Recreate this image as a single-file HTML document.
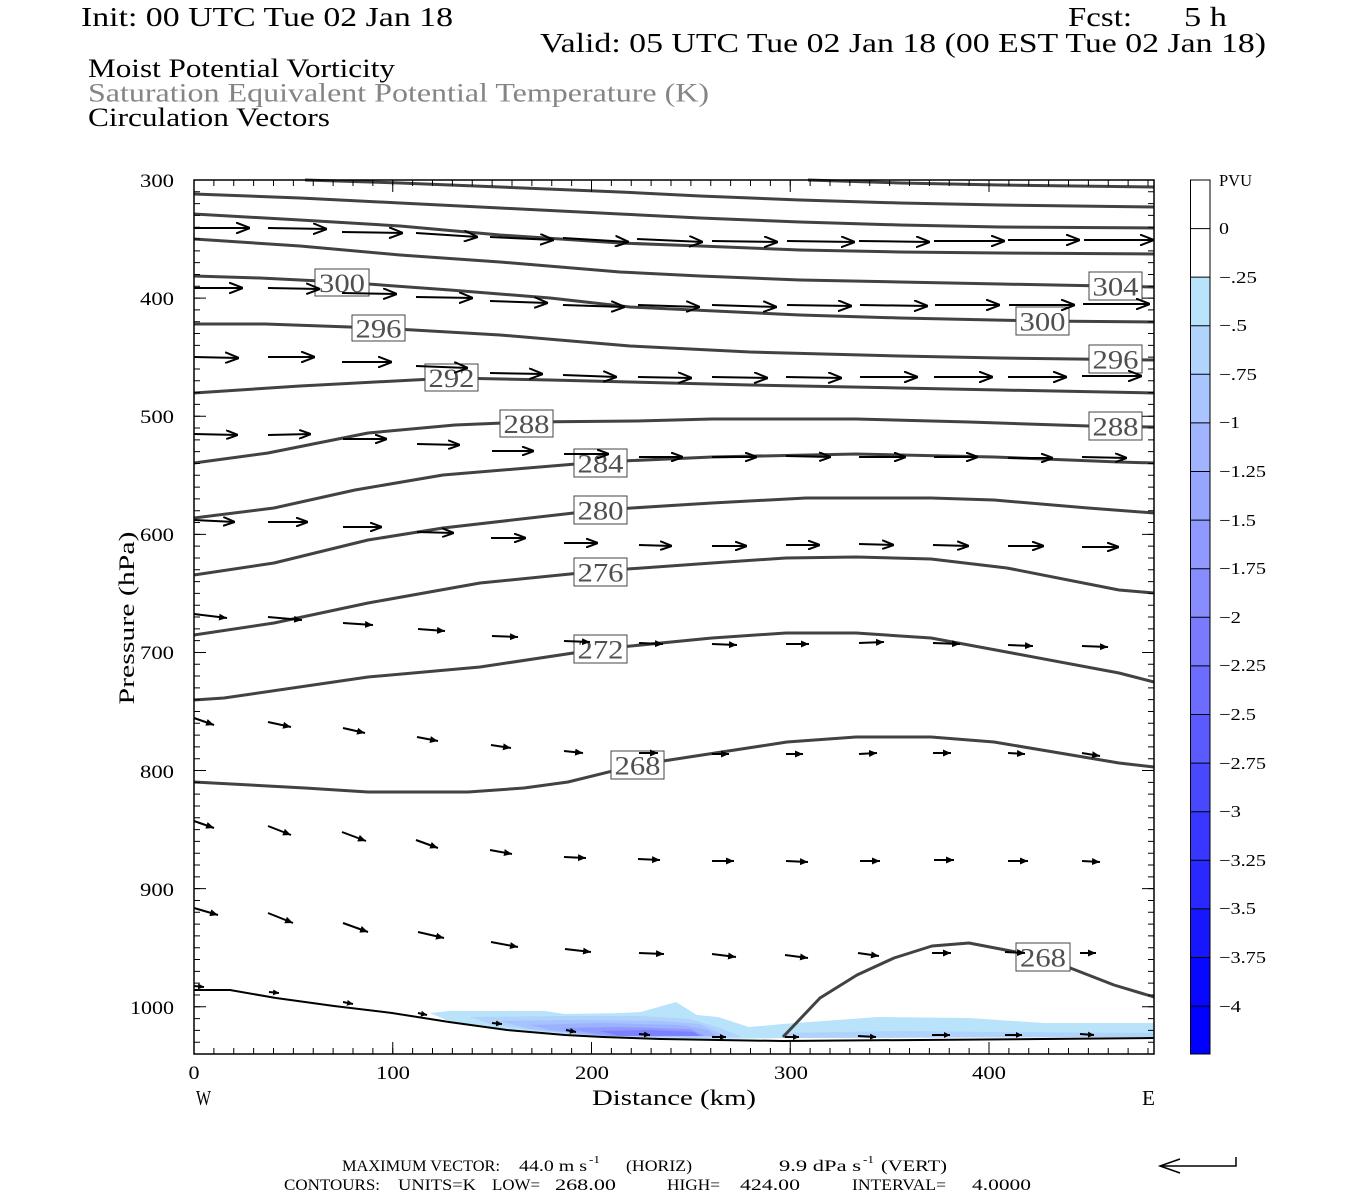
<!DOCTYPE html>
<html><head><meta charset="utf-8"><style>
html,body{margin:0;padding:0;background:#fff;}
svg{display:block;}
text{font-family:"Liberation Serif",serif;}
</style></head><body>
<svg width="1350" height="1200" viewBox="0 0 1350 1200" xmlns="http://www.w3.org/2000/svg">
<defs>
<marker id="mL" viewBox="0 0 14 12" refX="14" refY="6" markerWidth="14" markerHeight="12" markerUnits="userSpaceOnUse" orient="auto"><path d="M0,0.5 L14,6 L0,11.5" fill="none" stroke="#000" stroke-width="2"/></marker>
<marker id="mM" viewBox="0 0 12 10" refX="12" refY="5" markerWidth="12" markerHeight="10" markerUnits="userSpaceOnUse" orient="auto"><path d="M0,0.5 L12,5 L0,9.5" fill="none" stroke="#000" stroke-width="2"/></marker>
<marker id="mS" viewBox="0 0 8 7" refX="8" refY="3.5" markerWidth="8" markerHeight="7" markerUnits="userSpaceOnUse" orient="auto"><path d="M0,0 L8,3.5 L0,7 Z" fill="#000"/></marker>
<marker id="mT" viewBox="0 0 6 6" refX="6" refY="3" markerWidth="6" markerHeight="6" markerUnits="userSpaceOnUse" orient="auto"><path d="M0,0 L6,3 L0,6 Z" fill="#000"/></marker>
</defs>
<rect width="1350" height="1200" fill="#fff"/>

<!-- Titles -->
<text x="81" y="26" font-size="27" textLength="372" lengthAdjust="spacingAndGlyphs">Init: 00 UTC Tue 02 Jan 18</text>
<text x="1068" y="26" font-size="27" textLength="64" lengthAdjust="spacingAndGlyphs">Fcst:</text>
<text x="1184" y="26" font-size="27" textLength="43" lengthAdjust="spacingAndGlyphs">5 h</text>
<text x="540" y="52" font-size="27" textLength="726" lengthAdjust="spacingAndGlyphs">Valid: 05 UTC Tue 02 Jan 18 (00 EST Tue 02 Jan 18)</text>
<text x="88" y="77" font-size="26" textLength="307" lengthAdjust="spacingAndGlyphs">Moist Potential Vorticity</text>
<text x="88" y="101.5" font-size="26" fill="#858585" textLength="621" lengthAdjust="spacingAndGlyphs">Saturation Equivalent Potential Temperature (K)</text>
<text x="88" y="126" font-size="26" textLength="242" lengthAdjust="spacingAndGlyphs">Circulation Vectors</text>

<!-- PV shading -->
<path d="M430,1013 L449,1011 L545,1011 L565,1014 L622,1013 L641,1012 L676,1002 L697,1015 L718,1017 L749,1027 L783,1024 L878,1017 L969,1018 L1044,1023 L1154,1023 L1154,1037 L783,1038 L718,1039 L661,1038 L603,1036 L565,1034 L507,1029 L449,1021 Z" fill="#b9e3fb"/>
<path d="M470,1017 L560,1016 L640,1016 L690,1019 L720,1028 L742,1037 L700,1038 L603,1036 L540,1031 L490,1024 Z" fill="#afd3fb"/>
<path d="M500,1021 L580,1020 L660,1021 L700,1024 L726,1036 L650,1037 L590,1035 L530,1029 Z" fill="#a6c2ff"/>
<path d="M530,1025 L600,1023 L680,1025 L708,1030 L716,1036 L600,1036 L550,1030 Z" fill="#9cb2ff"/>
<path d="M560,1028 L620,1027 L690,1029 L705,1036 L610,1036 Z" fill="#8e9aff"/>
<path d="M600,1031 L650,1030 L694,1032 L700,1036 L620,1036 Z" fill="#7f80ff"/>
<path d="M783,1033 L900,1031 L1000,1032 L1154,1033 L1154,1037 L783,1038 Z" fill="#afd3fb"/>

<!-- ground line -->
<path d="M194,990 L230,990 L276,998 L334,1006 L392,1013 L449,1022 L507,1030 L565,1035 L603,1037 L661,1039 L718,1040 L783,1041 L1044,1039 L1154,1038" fill="none" stroke="#000" stroke-width="2"/>

<!-- contours -->
<g fill="none" stroke="#424242" stroke-width="3" stroke-linejoin="round">
<path d="M808,180 L900,183 L1000,185 L1154,187"/>
<path d="M305,180 L400,183 L500,187 L620,192 L700,196 L800,200 L900,203 L1000,205 L1154,207"/>
<path d="M194,194 L300,198 L400,203 L500,208 L620,214 L700,218 L800,222 L900,225 L1000,227 L1154,228"/>
<path d="M194,214 L300,220 L400,226 L500,235 L620,243 L700,246 L800,250 L900,252 L1000,253 L1154,254"/>
<path d="M194,239 L300,246 L400,255 L500,262 L620,272 L700,276 L800,280 L900,282 L1000,284 L1154,287"/>
<path d="M194,276 L260,278 L340,282 L450,290 L550,298 L630,307 L800,315 L900,318 L1040,321 L1154,322"/>
<path d="M194,324 L265,324 L378,328 L500,335 L630,346 L750,352 L900,356 L1000,358 L1154,360"/>
<path d="M194,393 L300,386 L452,378 L550,380 L630,382 L750,385 L900,388 L1000,390 L1154,393"/>
<path d="M194,463 L268,453 L368,433 L455,425 L526,422 L637,421 L712,419 L856,419 L969,422 L1089,426 L1154,427"/>
<path d="M194,518 L274,508 L355,490 L443,475 L600,462 L712,457 L856,454 L994,457 L1119,462 L1154,463"/>
<path d="M194,575 L274,563 L368,540 L443,528 L600,510 L712,503 L806,498 L931,498 L994,500 L1088,508 L1154,513"/>
<path d="M194,635 L274,623 L368,603 L480,583 L600,571 L712,563 L786,558 L856,557 L931,559 L1007,568 L1119,590 L1154,593"/>
<path d="M194,700 L224,698 L368,677 L480,667 L600,649 L712,638 L786,633 L856,633 L931,638 L1012,653 L1119,673 L1154,682"/>
<path d="M194,782 L305,788 L368,792 L468,792 L524,788 L568,782 L637,765 L787,742 L856,737 L931,737 L994,742 L1119,763 L1154,767"/>
<path d="M783,1037 L820,998 L857,975 L894,958 L932,946 L969,943 L1042,957 L1114,985 L1154,997"/>
</g>

<!-- contour labels -->
<g fill="#fff" stroke="#444" stroke-width="1">
<rect x="315" y="269" width="54" height="27"/>
<rect x="352" y="315" width="53" height="26"/>
<rect x="425" y="364" width="53" height="27"/>
<rect x="500" y="410" width="53" height="27"/>
<rect x="574" y="449" width="53" height="28"/>
<rect x="574" y="496" width="53" height="28"/>
<rect x="574" y="558" width="53" height="28"/>
<rect x="574" y="635" width="53" height="28"/>
<rect x="611" y="751" width="53" height="28"/>
<rect x="1089" y="272" width="53" height="28"/>
<rect x="1016" y="307" width="53" height="28"/>
<rect x="1089" y="345" width="53" height="28"/>
<rect x="1089" y="412" width="53" height="28"/>
<rect x="1016" y="943" width="54" height="28"/>
</g>
<g font-size="26" fill="#505050" text-anchor="middle">
<text x="342" y="292" textLength="46" lengthAdjust="spacingAndGlyphs">300</text>
<text x="378.5" y="337.5" textLength="46" lengthAdjust="spacingAndGlyphs">296</text>
<text x="451.5" y="387" textLength="46" lengthAdjust="spacingAndGlyphs">292</text>
<text x="526.5" y="433" textLength="46" lengthAdjust="spacingAndGlyphs">288</text>
<text x="600.5" y="472.5" textLength="46" lengthAdjust="spacingAndGlyphs">284</text>
<text x="600.5" y="519.5" textLength="46" lengthAdjust="spacingAndGlyphs">280</text>
<text x="600.5" y="581.5" textLength="46" lengthAdjust="spacingAndGlyphs">276</text>
<text x="600.5" y="658.5" textLength="46" lengthAdjust="spacingAndGlyphs">272</text>
<text x="637.5" y="774.5" textLength="46" lengthAdjust="spacingAndGlyphs">268</text>
<text x="1115.5" y="295.5" textLength="46" lengthAdjust="spacingAndGlyphs">304</text>
<text x="1042.5" y="330.5" textLength="46" lengthAdjust="spacingAndGlyphs">300</text>
<text x="1115.5" y="368.5" textLength="46" lengthAdjust="spacingAndGlyphs">296</text>
<text x="1115.5" y="435.5" textLength="46" lengthAdjust="spacingAndGlyphs">288</text>
<text x="1043" y="966.5" textLength="46" lengthAdjust="spacingAndGlyphs">268</text>
</g>

<!-- vectors -->
<g stroke="#000" stroke-width="2" fill="none">
<g marker-end="url(#mL)">
<line x1="194" y1="228" x2="250" y2="228"/>
<line x1="268" y1="228" x2="327" y2="229"/>
<line x1="342" y1="232" x2="403" y2="233"/>
<line x1="416" y1="233" x2="478" y2="237"/>
<line x1="490" y1="237" x2="554" y2="240"/>
<line x1="563" y1="238" x2="629" y2="242"/>
<line x1="637" y1="239" x2="703" y2="242"/>
<line x1="712" y1="241" x2="778" y2="242"/>
<line x1="787" y1="241" x2="855" y2="242"/>
<line x1="859" y1="241" x2="930" y2="242"/>
<line x1="934" y1="241" x2="1005" y2="241"/>
<line x1="1008" y1="240" x2="1080" y2="240"/>
<line x1="1084" y1="240" x2="1154" y2="240"/>
<line x1="194" y1="288" x2="243" y2="288"/>
<line x1="268" y1="288" x2="320" y2="289"/>
<line x1="342" y1="293" x2="397" y2="294"/>
<line x1="416" y1="297" x2="473" y2="298"/>
<line x1="490" y1="301" x2="548" y2="303"/>
<line x1="563" y1="305" x2="625" y2="307"/>
<line x1="638" y1="305" x2="700" y2="307"/>
<line x1="712" y1="305" x2="777" y2="307"/>
<line x1="787" y1="305" x2="852" y2="306"/>
<line x1="860" y1="305" x2="928" y2="306"/>
<line x1="935" y1="305" x2="1000" y2="305"/>
<line x1="1009" y1="305" x2="1075" y2="305"/>
<line x1="1083" y1="304" x2="1150" y2="304"/>
<line x1="194" y1="357" x2="239" y2="358"/>
<line x1="268" y1="357" x2="315" y2="357"/>
<line x1="342" y1="362" x2="392" y2="362"/>
<line x1="416" y1="366" x2="468" y2="368"/>
<line x1="490" y1="373" x2="543" y2="374"/>
<line x1="563" y1="375" x2="617" y2="377"/>
<line x1="638" y1="377" x2="692" y2="378"/>
<line x1="712" y1="377" x2="768" y2="378"/>
<line x1="786" y1="377" x2="842" y2="378"/>
<line x1="860" y1="377" x2="918" y2="377"/>
<line x1="934" y1="377" x2="993" y2="377"/>
<line x1="1008" y1="377" x2="1067" y2="377"/>
<line x1="1082" y1="376" x2="1142" y2="376"/>
</g>
<g marker-end="url(#mM)">
<line x1="194" y1="434" x2="238" y2="435"/>
<line x1="268" y1="435" x2="311" y2="434"/>
<line x1="343" y1="439" x2="387" y2="439"/>
<line x1="417" y1="444" x2="460" y2="445"/>
<line x1="492" y1="451" x2="534" y2="451"/>
<line x1="564" y1="454" x2="609" y2="454"/>
<line x1="639" y1="457" x2="683" y2="457"/>
<line x1="712" y1="457" x2="757" y2="457"/>
<line x1="786" y1="456" x2="831" y2="457"/>
<line x1="859" y1="457" x2="906" y2="457"/>
<line x1="934" y1="457" x2="978" y2="457"/>
<line x1="1008" y1="458" x2="1053" y2="458"/>
<line x1="1082" y1="457" x2="1127" y2="458"/>
<line x1="194" y1="520" x2="235" y2="522"/>
<line x1="268" y1="522" x2="308" y2="522"/>
<line x1="343" y1="527" x2="382" y2="527"/>
<line x1="417" y1="532" x2="454" y2="533"/>
<line x1="491" y1="538" x2="526" y2="538"/>
<line x1="564" y1="543" x2="598" y2="543"/>
<line x1="639" y1="545" x2="672" y2="546"/>
<line x1="712" y1="546" x2="747" y2="546"/>
<line x1="786" y1="545" x2="820" y2="545"/>
<line x1="859" y1="544" x2="894" y2="545"/>
<line x1="933" y1="545" x2="969" y2="546"/>
<line x1="1008" y1="546" x2="1044" y2="546"/>
<line x1="1082" y1="547" x2="1119" y2="547"/>
</g>
<g marker-end="url(#mS)">
<line x1="194" y1="614" x2="227" y2="618"/>
<line x1="268" y1="617" x2="302" y2="620"/>
<line x1="343" y1="623" x2="373" y2="625"/>
<line x1="418" y1="629" x2="445" y2="631"/>
<line x1="492" y1="636" x2="518" y2="637"/>
<line x1="564" y1="641" x2="590" y2="642"/>
<line x1="639" y1="643" x2="663" y2="644"/>
<line x1="712" y1="644" x2="737" y2="645"/>
<line x1="786" y1="644" x2="809" y2="644"/>
<line x1="859" y1="643" x2="884" y2="642"/>
<line x1="933" y1="643" x2="960" y2="644"/>
<line x1="1008" y1="645" x2="1033" y2="646"/>
<line x1="1082" y1="646" x2="1108" y2="647"/>
<line x1="194" y1="718" x2="214" y2="725"/>
<line x1="268" y1="722" x2="291" y2="727"/>
<line x1="343" y1="728" x2="365" y2="733"/>
<line x1="417" y1="737" x2="438" y2="741"/>
<line x1="491" y1="745" x2="511" y2="748"/>
<line x1="564" y1="751" x2="583" y2="753"/>
<line x1="639" y1="753" x2="658" y2="753"/>
<line x1="712" y1="754" x2="729" y2="754"/>
<line x1="786" y1="754" x2="803" y2="754"/>
<line x1="859" y1="754" x2="877" y2="753"/>
<line x1="933" y1="753" x2="951" y2="753"/>
<line x1="1008" y1="753" x2="1025" y2="754"/>
<line x1="1082" y1="753" x2="1100" y2="756"/>
<line x1="194" y1="821" x2="214" y2="828"/>
<line x1="268" y1="826" x2="291" y2="835"/>
<line x1="342" y1="832" x2="366" y2="841"/>
<line x1="416" y1="840" x2="438" y2="848"/>
<line x1="490" y1="850" x2="512" y2="854"/>
<line x1="564" y1="857" x2="586" y2="858"/>
<line x1="638" y1="859" x2="660" y2="860"/>
<line x1="712" y1="861" x2="734" y2="861"/>
<line x1="786" y1="861" x2="808" y2="862"/>
<line x1="860" y1="861" x2="880" y2="861"/>
<line x1="934" y1="860" x2="954" y2="860"/>
<line x1="1008" y1="861" x2="1028" y2="861"/>
<line x1="1082" y1="861" x2="1100" y2="862"/>
<line x1="194" y1="908" x2="218" y2="915"/>
<line x1="268" y1="913" x2="293" y2="923"/>
<line x1="343" y1="923" x2="368" y2="932"/>
<line x1="418" y1="932" x2="444" y2="938"/>
<line x1="491" y1="942" x2="518" y2="947"/>
<line x1="565" y1="949" x2="591" y2="952"/>
<line x1="639" y1="953" x2="664" y2="954"/>
<line x1="712" y1="954" x2="736" y2="957"/>
<line x1="785" y1="955" x2="808" y2="958"/>
<line x1="858" y1="953" x2="879" y2="956"/>
<line x1="932" y1="953" x2="951" y2="953"/>
<line x1="1005" y1="952" x2="1025" y2="953"/>
<line x1="1080" y1="953" x2="1096" y2="953"/>
</g>
<g marker-end="url(#mT)">
<line x1="194" y1="986" x2="204" y2="987"/>
<line x1="269" y1="992" x2="279" y2="993"/>
<line x1="343" y1="1002" x2="353" y2="1004"/>
<line x1="418" y1="1013" x2="427" y2="1015"/>
<line x1="492" y1="1023" x2="502" y2="1024"/>
<line x1="566" y1="1030" x2="576" y2="1032"/>
<line x1="639" y1="1034" x2="650" y2="1035"/>
<line x1="712" y1="1037" x2="726" y2="1037"/>
<line x1="785" y1="1037" x2="799" y2="1037"/>
<line x1="858" y1="1036" x2="876" y2="1037"/>
<line x1="932" y1="1035" x2="950" y2="1035"/>
<line x1="1005" y1="1035" x2="1022" y2="1035"/>
<line x1="1080" y1="1034" x2="1094" y2="1035"/>
</g>
</g>

<!-- frame -->
<rect x="194" y="180" width="960" height="874" fill="none" stroke="#000" stroke-width="1.5"/>
<!-- ticks -->
<g stroke="#000" fill="none">
<line x1="194" y1="183" x2="1154" y2="183" stroke-width="6" stroke-dasharray="1 18.875" stroke-dashoffset="0.5"/>
<line x1="194" y1="186" x2="1154" y2="186" stroke-width="12" stroke-dasharray="1 197.75" stroke-dashoffset="0.5"/>
<line x1="194" y1="1051" x2="1154" y2="1051" stroke-width="6" stroke-dasharray="1 18.875" stroke-dashoffset="0.5"/>
<line x1="194" y1="1048" x2="1154" y2="1048" stroke-width="12" stroke-dasharray="1 197.75" stroke-dashoffset="0.5"/>
<line x1="197" y1="180" x2="197" y2="1055" stroke-width="6" stroke-dasharray="1 10.811" stroke-dashoffset="0.5"/>
<line x1="200" y1="180" x2="200" y2="1055" stroke-width="12" stroke-dasharray="1 117.11" stroke-dashoffset="0.5"/>
<line x1="1151" y1="180" x2="1151" y2="1055" stroke-width="6" stroke-dasharray="1 10.811" stroke-dashoffset="0.5"/>
<line x1="1148" y1="180" x2="1148" y2="1055" stroke-width="12" stroke-dasharray="1 117.11" stroke-dashoffset="0.5"/>
</g>

<!-- axis labels -->
<g font-size="19" text-anchor="end">
<text x="174" y="187" textLength="34" lengthAdjust="spacingAndGlyphs">300</text>
<text x="174" y="305" textLength="34" lengthAdjust="spacingAndGlyphs">400</text>
<text x="174" y="423" textLength="34" lengthAdjust="spacingAndGlyphs">500</text>
<text x="174" y="541" textLength="34" lengthAdjust="spacingAndGlyphs">600</text>
<text x="174" y="659" textLength="34" lengthAdjust="spacingAndGlyphs">700</text>
<text x="174" y="778" textLength="34" lengthAdjust="spacingAndGlyphs">800</text>
<text x="174" y="896" textLength="34" lengthAdjust="spacingAndGlyphs">900</text>
<text x="174" y="1014" textLength="44" lengthAdjust="spacingAndGlyphs">1000</text>
</g>
<g font-size="19" text-anchor="middle">
<text x="194" y="1079" textLength="11" lengthAdjust="spacingAndGlyphs">0</text>
<text x="393" y="1079" textLength="34" lengthAdjust="spacingAndGlyphs">100</text>
<text x="592" y="1079" textLength="34" lengthAdjust="spacingAndGlyphs">200</text>
<text x="791" y="1079" textLength="34" lengthAdjust="spacingAndGlyphs">300</text>
<text x="989" y="1079" textLength="34" lengthAdjust="spacingAndGlyphs">400</text>
</g>
<text x="196" y="1105" font-size="21" textLength="15" lengthAdjust="spacingAndGlyphs">W</text>
<text x="1142" y="1105" font-size="21" textLength="13" lengthAdjust="spacingAndGlyphs">E</text>
<text x="592" y="1105" font-size="22" textLength="164" lengthAdjust="spacingAndGlyphs">Distance (km)</text>
<text transform="translate(134,618) rotate(-90)" x="0" y="0" font-size="22" text-anchor="middle" textLength="173" lengthAdjust="spacingAndGlyphs">Pressure (hPa)</text>

<!-- colorbar -->
<g stroke="none">
<rect x="1190" y="180" width="20" height="97.1" fill="#fff"/>
<rect x="1190" y="277.1" width="20" height="48.6" fill="#b9e3fb"/>
<rect x="1190" y="325.7" width="20" height="48.6" fill="#b0d4fb"/>
<rect x="1190" y="374.3" width="20" height="48.6" fill="#a9c4ff"/>
<rect x="1190" y="422.9" width="20" height="48.6" fill="#a0b4ff"/>
<rect x="1190" y="471.5" width="20" height="48.6" fill="#96a6ff"/>
<rect x="1190" y="520.1" width="20" height="48.6" fill="#8f99ff"/>
<rect x="1190" y="568.7" width="20" height="48.6" fill="#878cff"/>
<rect x="1190" y="617.3" width="20" height="48.6" fill="#7a7aff"/>
<rect x="1190" y="665.9" width="20" height="48.6" fill="#6c6cff"/>
<rect x="1190" y="714.5" width="20" height="48.6" fill="#5a5aff"/>
<rect x="1190" y="763.1" width="20" height="48.6" fill="#4848ff"/>
<rect x="1190" y="811.7" width="20" height="48.6" fill="#3737ff"/>
<rect x="1190" y="860.3" width="20" height="48.6" fill="#2828ff"/>
<rect x="1190" y="908.9" width="20" height="48.6" fill="#1717ff"/>
<rect x="1190" y="957.5" width="20" height="48.6" fill="#0808ff"/>
<rect x="1190" y="1006.1" width="20" height="47.9" fill="#0000ff"/>
</g>
<g stroke="#000" stroke-width="1">
<line x1="1190" y1="228.6" x2="1210" y2="228.6"/>
<line x1="1190" y1="277.1" x2="1210" y2="277.1"/>
<line x1="1190" y1="325.7" x2="1210" y2="325.7"/>
<line x1="1190" y1="374.3" x2="1210" y2="374.3"/>
<line x1="1190" y1="422.9" x2="1210" y2="422.9"/>
<line x1="1190" y1="471.5" x2="1210" y2="471.5"/>
<line x1="1190" y1="520.1" x2="1210" y2="520.1"/>
<line x1="1190" y1="568.7" x2="1210" y2="568.7"/>
<line x1="1190" y1="617.3" x2="1210" y2="617.3"/>
<line x1="1190" y1="665.9" x2="1210" y2="665.9"/>
<line x1="1190" y1="714.5" x2="1210" y2="714.5"/>
<line x1="1190" y1="763.1" x2="1210" y2="763.1"/>
<line x1="1190" y1="811.7" x2="1210" y2="811.7"/>
<line x1="1190" y1="860.3" x2="1210" y2="860.3"/>
<line x1="1190" y1="908.9" x2="1210" y2="908.9"/>
<line x1="1190" y1="957.5" x2="1210" y2="957.5"/>
<line x1="1190" y1="1006.1" x2="1210" y2="1006.1"/>
<rect x="1190.5" y="180" width="19.5" height="874" fill="none"/>
</g>
<g font-size="17">
<text x="1219" y="186" textLength="33" lengthAdjust="spacingAndGlyphs">PVU</text>
<text x="1219" y="234" textLength="10" lengthAdjust="spacingAndGlyphs">0</text>
<text x="1219" y="283" textLength="38" lengthAdjust="spacingAndGlyphs">−.25</text>
<text x="1219" y="331" textLength="28" lengthAdjust="spacingAndGlyphs">−.5</text>
<text x="1219" y="380" textLength="38" lengthAdjust="spacingAndGlyphs">−.75</text>
<text x="1219" y="428" textLength="21" lengthAdjust="spacingAndGlyphs">−1</text>
<text x="1219" y="477" textLength="47" lengthAdjust="spacingAndGlyphs">−1.25</text>
<text x="1219" y="526" textLength="37" lengthAdjust="spacingAndGlyphs">−1.5</text>
<text x="1219" y="574" textLength="47" lengthAdjust="spacingAndGlyphs">−1.75</text>
<text x="1219" y="623" textLength="22" lengthAdjust="spacingAndGlyphs">−2</text>
<text x="1219" y="671" textLength="47" lengthAdjust="spacingAndGlyphs">−2.25</text>
<text x="1219" y="720" textLength="37" lengthAdjust="spacingAndGlyphs">−2.5</text>
<text x="1219" y="769" textLength="47" lengthAdjust="spacingAndGlyphs">−2.75</text>
<text x="1219" y="817" textLength="22" lengthAdjust="spacingAndGlyphs">−3</text>
<text x="1219" y="866" textLength="47" lengthAdjust="spacingAndGlyphs">−3.25</text>
<text x="1219" y="914" textLength="37" lengthAdjust="spacingAndGlyphs">−3.5</text>
<text x="1219" y="963" textLength="47" lengthAdjust="spacingAndGlyphs">−3.75</text>
<text x="1219" y="1012" textLength="22" lengthAdjust="spacingAndGlyphs">−4</text>
</g>

<!-- bottom info -->
<g font-size="15.5">
<text x="342" y="1171" textLength="158" lengthAdjust="spacingAndGlyphs">MAXIMUM VECTOR:</text>
<text x="519" y="1171" textLength="68" lengthAdjust="spacingAndGlyphs">44.0 m s</text>
<text x="589" y="1163" font-size="11" textLength="11" lengthAdjust="spacingAndGlyphs">-1</text>
<text x="626" y="1171" textLength="66" lengthAdjust="spacingAndGlyphs">(HORIZ)</text>
<text x="779" y="1171" textLength="82" lengthAdjust="spacingAndGlyphs">9.9 dPa s</text>
<text x="863" y="1163" font-size="11" textLength="11" lengthAdjust="spacingAndGlyphs">-1</text>
<text x="881" y="1171" textLength="66" lengthAdjust="spacingAndGlyphs">(VERT)</text>
<text x="284" y="1190" textLength="96" lengthAdjust="spacingAndGlyphs">CONTOURS:</text>
<text x="398" y="1190" textLength="78" lengthAdjust="spacingAndGlyphs">UNITS=K</text>
<text x="492" y="1190" textLength="48" lengthAdjust="spacingAndGlyphs">LOW=</text>
<text x="555" y="1190" textLength="61" lengthAdjust="spacingAndGlyphs">268.00</text>
<text x="667" y="1190" textLength="53" lengthAdjust="spacingAndGlyphs">HIGH=</text>
<text x="740" y="1190" textLength="60" lengthAdjust="spacingAndGlyphs">424.00</text>
<text x="852" y="1190" textLength="94" lengthAdjust="spacingAndGlyphs">INTERVAL=</text>
<text x="972" y="1190" textLength="59" lengthAdjust="spacingAndGlyphs">4.0000</text>
</g>
<g stroke="#000" stroke-width="1.5" fill="none">
<path d="M1160,1166 L1236,1166 L1236,1157"/>
<path d="M1180,1159 L1160,1166 L1180,1173"/>
</g>
</svg>
</body></html>
